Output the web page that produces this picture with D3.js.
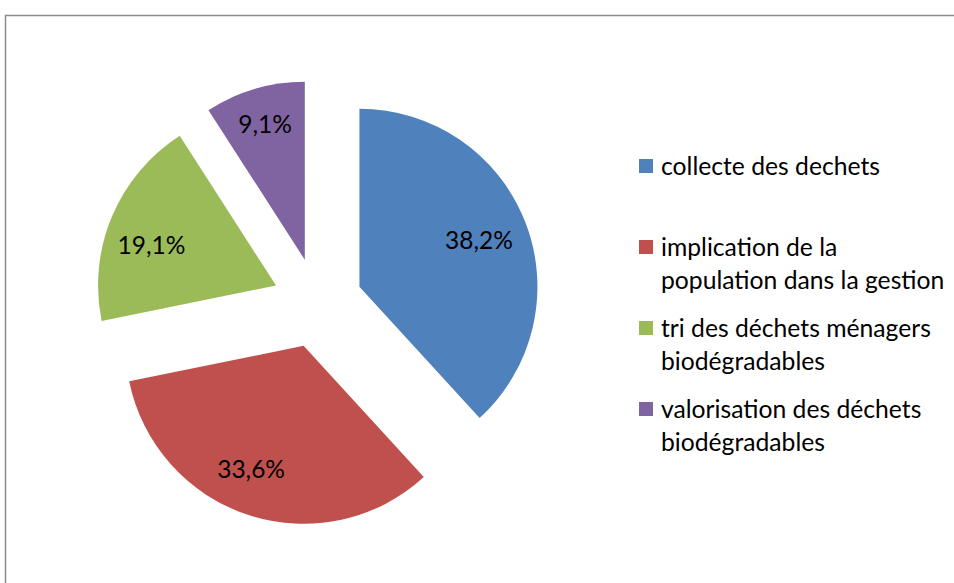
<!DOCTYPE html>
<html>
<head>
<meta charset="utf-8">
<style>
    body { margin: 0; background: #ffffff; }
    svg text { font-family: Lato, "Open Sans", sans-serif; fill: #000000; }
</style>
</head>
<body>
<svg id="chart" width="954" height="583"></svg>

<script src="https://cdn.jsdelivr.net/npm/d3@7"></script>
<script>
    // chart data
    const categories = ["collecte des dechets", "implication de la population dans la gestion",
        "tri des déchets ménagers biodégradables", "valorisation des déchets biodégradables"]
    const values = [38.2, 33.6, 19.1, 9.1]
    const valueLabels = ["38,2%", "33,6%", "19,1%", "9,1%"]
    const legendLines = [["collecte des dechets"], ["implication de la", "population dans la gestion"],
        ["tri des déchets ménagers", "biodégradables"], ["valorisation des déchets", "biodégradables"]]
    const colors = ["#4F81BD", "#C0504D", "#9BBB59", "#8064A2"]

    // label placement (fraction of radius, angle nudge in degrees), like Excel "best fit"
    const labelRadius = [0.72, 0.755, 0.735, 0.79]
    const labelNudge = [0, 5, -5, 0]

    let svg = d3.select("#chart")

    // chart frame (cut by the window on right and bottom)
    svg.append("rect")
        .attr("x", 5.5).attr("y", 15.5)
        .attr("width", 1200).attr("height", 1000)
        .attr("fill", "none")
        .attr("stroke", "#8c8c8c")
        .attr("stroke-width", 1.5)

    let cx = 317.5, cy = 303
    let radius = 178
    let explode = 45

    let colorScale = d3.scaleOrdinal().domain(categories).range(colors)

    let pie = d3.pie().sort(null).value(d => d)
    let arcs = pie(values)

    let arc = d3.arc().innerRadius(0).outerRadius(radius)

    let body = svg.append("g").attr("transform", `translate(${cx},${cy})`)

    function offset(d) {
        let mid = (d.startAngle + d.endAngle) / 2
        return [Math.sin(mid) * explode, -Math.cos(mid) * explode]
    }

    let slices = body.selectAll("g.slice")
        .data(arcs)
        .enter()
        .append("g")
        .attr("class", "slice")
        .attr("transform", d => {
            let o = offset(d)
            return `translate(${o[0]},${o[1]})`
        })

    slices.append("path")
        .attr("d", arc)
        .attr("fill", (d, i) => colorScale(categories[i]))

    slices.append("text")
        .attr("transform", (d, i) => {
            let a = (d.startAngle + d.endAngle) / 2 + labelNudge[i] * Math.PI / 180
            let r = radius * labelRadius[i]
            return `translate(${Math.sin(a) * r},${-Math.cos(a) * r})`
        })
        .attr("text-anchor", "middle")
        .attr("dy", "0.35em")
        .style("font-size", "24.5px")
        .text((d, i) => valueLabels[i])

    // legend
    let legend = svg.append("g").attr("transform", "translate(639,166)")
    let entries = legend.selectAll("g.entry")
        .data(categories)
        .enter()
        .append("g")
        .attr("class", "entry")
        .attr("transform", (d, i) => `translate(0,${i * 81})`)

    entries.append("rect")
        .attr("x", 0).attr("y", -7)
        .attr("width", 14).attr("height", 14)
        .attr("fill", d => colorScale(d))

    entries.append("text")
        .attr("x", 22)
        .style("font-size", "24.7px")
        .selectAll("tspan")
        .data((d, i) => legendLines[i])
        .enter()
        .append("tspan")
        .attr("x", 22)
        .attr("y", (d, j) => j * 33)
        .attr("dy", "0.35em")
        .text(d => d)
</script>
</body>
</html>
